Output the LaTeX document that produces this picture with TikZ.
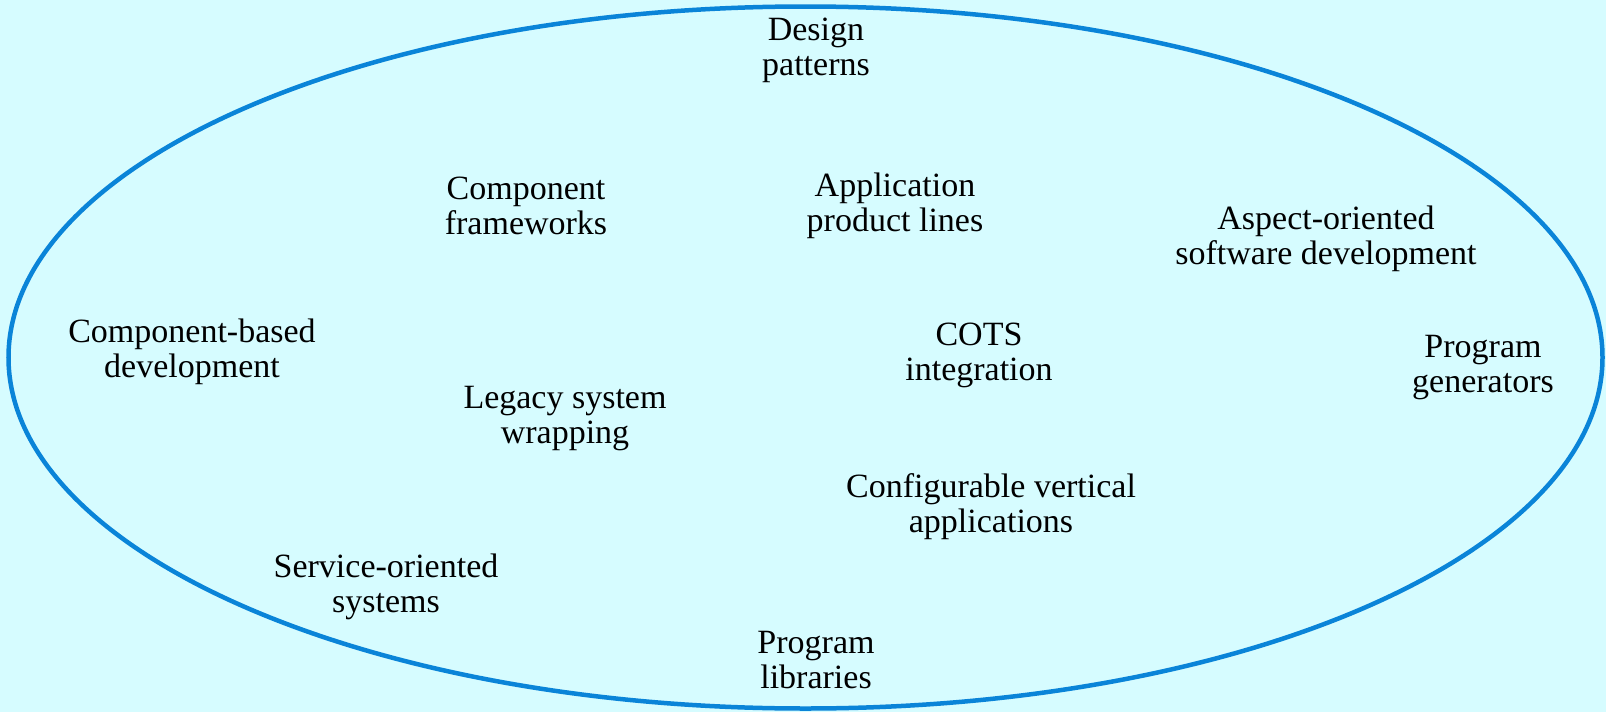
\documentclass[tikz,border=0pt]{standalone}
\usepackage{fontspec}
\setmainfont{Liberation Serif}
\definecolor{bgcyan}{HTML}{D6FCFF}
\definecolor{ellblue}{HTML}{0A84D8}
\begin{document}
\begin{tikzpicture}[x=1pt,y=-1pt,
  lbl/.style={align=center,font=\fontsize{34}{35}\selectfont,text=black,inner sep=0pt}]
\fill[bgcyan] (0,0) rectangle (1606,712);
\useasboundingbox (0,0) rectangle (1606,712);
\draw[ellblue,line width=4.5pt] (805.5,357.5) ellipse [x radius=797, y radius=351];
\node[lbl] (dp) at (816,50) {Design\\patterns};
\node[lbl] (cf) at (526,206) {Component\\frameworks};
\node[lbl] (apl) at (895,206) {Application\\product lines};
\node[lbl] (aosd) at (1326,239) {Aspect-oriented\\software development};
\node[lbl] (cbd) at (192,352) {Component-based\\development};
\node[lbl] (cots) at (979,355) {COTS\\integration};
\node[lbl] (pg) at (1483,368) {Program\\generators};
\node[lbl] (lsw) at (565,419) {Legacy system\\wrapping};
\node[lbl] (cva) at (991,507) {Configurable vertical\\applications};
\node[lbl] (sos) at (386,587) {Service-oriented\\systems};
\node[lbl] (pl) at (816,660) {Program\\libraries};
\end{tikzpicture}
\end{document}
